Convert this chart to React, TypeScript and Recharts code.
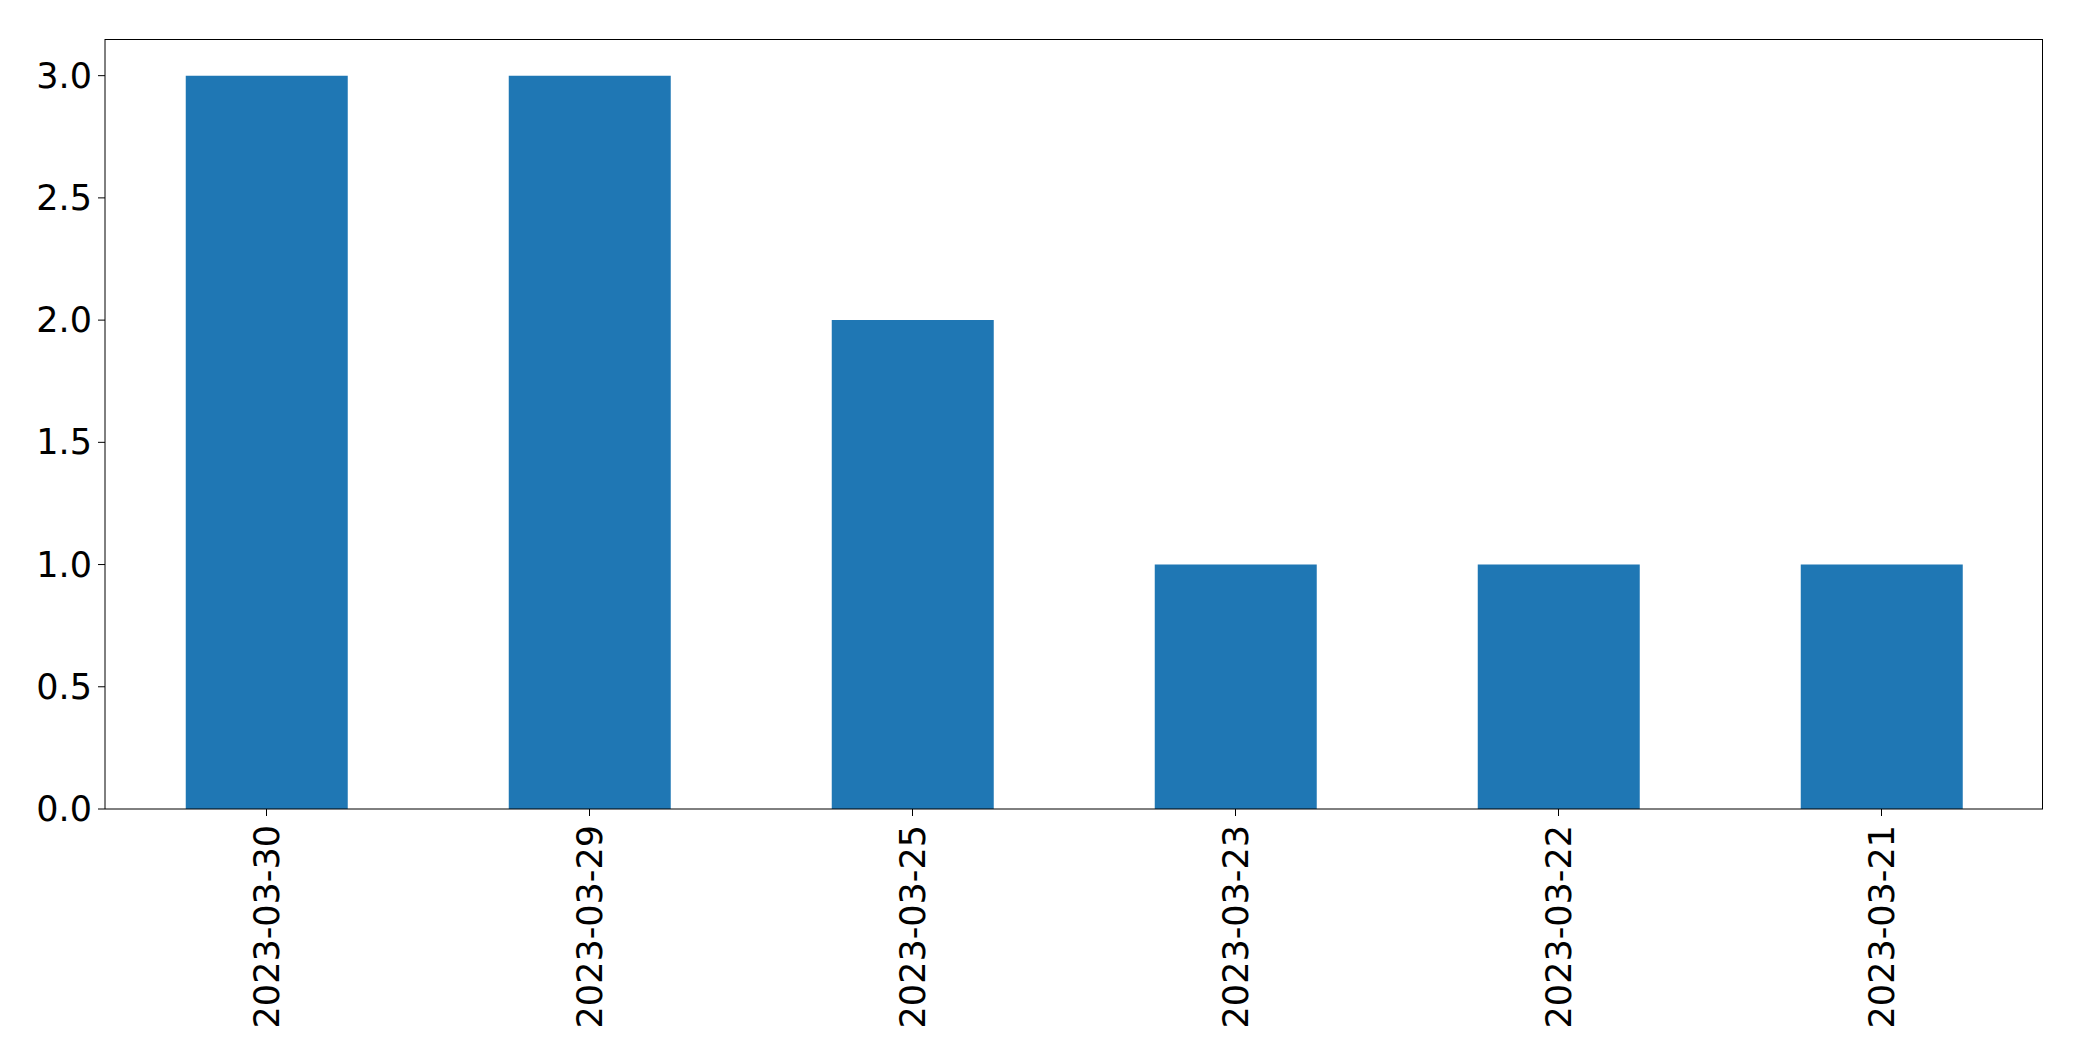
import { BarChart, Bar, XAxis, YAxis } from "recharts";

const dates = ["2023-03-30", "2023-03-29", "2023-03-25", "2023-03-23", "2023-03-22", "2023-03-21"];
const counts = [3, 3, 2, 1, 1, 1];
const yTicks = [0, 0.5, 1, 1.5, 2, 2.5, 3];

const data = dates.map((d, i) => ({ date: d, count: counts[i] }));

const font = "'DejaVu Sans', sans-serif";

// rotated date labels, hanging below the tick
const DateTick = (props: any) => {
  const { x, y, payload } = props;
  const ty = y + 7;
  return (
    <text
      x={x}
      y={ty}
      transform={`rotate(-90, ${x}, ${ty})`}
      textAnchor="end"
      dominantBaseline="central"
      fontFamily={font}
      fontSize={35}
      fill="#000"
    >
      {payload.value}
    </text>
  );
};

const ValueTick = (props: any) => {
  const { x, y, payload } = props;
  return (
    <text x={x} y={y} textAnchor="end" dominantBaseline="central" fontFamily={font} fontSize={35} fill="#000">
      {Number(payload.value).toFixed(1)}
    </text>
  );
};

const App = () => {
  return (
    <div style={{ position: "absolute", left: 0, top: 0, width: 2082, height: 1061, background: "#fff" }}>
      <BarChart
        width={2082}
        height={1061}
        data={data}
        margin={{ top: 39, right: 39, left: 0, bottom: 0 }}
        barCategoryGap="25%"
      >
        <XAxis
          dataKey="date"
          height={252}
          stroke="#000"
          tickSize={7}
          tick={<DateTick />}
          interval={0}
        />
        <YAxis
          width={105}
          domain={[0, 3.15]}
          ticks={yTicks}
          stroke="#000"
          tickSize={7}
          tickMargin={6}
          tick={<ValueTick />}
          interval={0}
        />
        <Bar dataKey="count" fill="#1f77b4" isAnimationActive={false} />
      </BarChart>
      {/* top and right spines of the frame */}
      <div
        style={{
          position: "absolute",
          left: 105,
          top: 39,
          width: 1938,
          height: 770,
          boxSizing: "border-box",
          borderTop: "1px solid #000",
          borderRight: "1px solid #000",
          pointerEvents: "none",
        }}
      />
    </div>
  );
};

export default App;
